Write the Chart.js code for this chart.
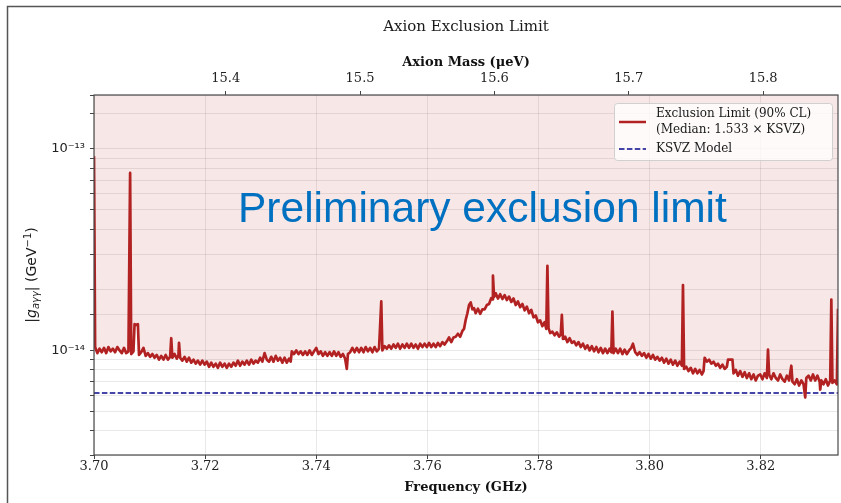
<!DOCTYPE html>
<html>
<head>
<meta charset="utf-8">
<script src="https://cdn.jsdelivr.net/npm/chart.js@4.4.1/dist/chart.umd.min.js"></script>
<style>
  html, body { margin: 0; padding: 0; background: #fff; }
</style>
</head>
<body>
<canvas id="chart" width="841" height="503"></canvas>
<script>
// frequency of each point (GHz)
const freqGHz = [
  3.7000, 3.7002, 3.7006, 3.7010, 3.7014, 3.7018, 3.7022, 3.7026, 3.7030, 3.7034,
  3.7038, 3.7042, 3.7046, 3.7050, 3.7054, 3.7058, 3.7062, 3.7065, 3.7067, 3.7071,
  3.7073, 3.7076, 3.7079, 3.7081, 3.7085, 3.7089, 3.7093, 3.7097, 3.7101, 3.7105,
  3.7109, 3.7113, 3.7117, 3.7121, 3.7125, 3.7129, 3.7133, 3.7137, 3.7139, 3.7141,
  3.7145, 3.7149, 3.7152, 3.7153, 3.7155, 3.7159, 3.7163, 3.7167, 3.7171, 3.7175,
  3.7179, 3.7183, 3.7187, 3.7191, 3.7195, 3.7199, 3.7203, 3.7207, 3.7211, 3.7215,
  3.7219, 3.7223, 3.7227, 3.7231, 3.7235, 3.7239, 3.7243, 3.7247, 3.7251, 3.7255,
  3.7259, 3.7263, 3.7267, 3.7271, 3.7275, 3.7279, 3.7283, 3.7287, 3.7291, 3.7295,
  3.7299, 3.7303, 3.7307, 3.7311, 3.7315, 3.7319, 3.7323, 3.7327, 3.7331, 3.7335,
  3.7339, 3.7343, 3.7347, 3.7351, 3.7354, 3.7356, 3.7360, 3.7364, 3.7368, 3.7372,
  3.7376, 3.7380, 3.7384, 3.7388, 3.7392, 3.7396, 3.7400, 3.7404, 3.7408, 3.7412,
  3.7416, 3.7420, 3.7424, 3.7428, 3.7432, 3.7436, 3.7440, 3.7444, 3.7448, 3.7452,
  3.7455, 3.7457, 3.7461, 3.7465, 3.7469, 3.7473, 3.7477, 3.7481, 3.7485, 3.7489,
  3.7493, 3.7497, 3.7501, 3.7505, 3.7509, 3.7513, 3.7517, 3.7519, 3.7523, 3.7527,
  3.7531, 3.7535, 3.7539, 3.7543, 3.7547, 3.7551, 3.7555, 3.7559, 3.7563, 3.7567,
  3.7571, 3.7575, 3.7579, 3.7583, 3.7587, 3.7591, 3.7595, 3.7599, 3.7603, 3.7607,
  3.7611, 3.7615, 3.7619, 3.7623, 3.7627, 3.7631, 3.7635, 3.7639, 3.7643, 3.7647,
  3.7651, 3.7655, 3.7659, 3.7663, 3.7666, 3.7669, 3.7672, 3.7675, 3.7678, 3.7681,
  3.7684, 3.7687, 3.7691, 3.7695, 3.7699, 3.7703, 3.7707, 3.7711, 3.7715, 3.7717,
  3.7718, 3.7720, 3.7723, 3.7727, 3.7731, 3.7735, 3.7739, 3.7743, 3.7747, 3.7751,
  3.7755, 3.7759, 3.7763, 3.7767, 3.7771, 3.7775, 3.7779, 3.7783, 3.7787, 3.7791,
  3.7795, 3.7799, 3.7803, 3.7807, 3.7811, 3.7814, 3.7816, 3.7818, 3.7821, 3.7825,
  3.7829, 3.7833, 3.7837, 3.7840, 3.7842, 3.7844, 3.7848, 3.7852, 3.7856, 3.7860,
  3.7864, 3.7868, 3.7872, 3.7876, 3.7880, 3.7884, 3.7888, 3.7892, 3.7896, 3.7900,
  3.7904, 3.7908, 3.7912, 3.7916, 3.7920, 3.7924, 3.7928, 3.7931, 3.7933, 3.7935,
  3.7939, 3.7943, 3.7947, 3.7951, 3.7955, 3.7959, 3.7963, 3.7967, 3.7970, 3.7974,
  3.7978, 3.7982, 3.7986, 3.7990, 3.7994, 3.7998, 3.8002, 3.8006, 3.8010, 3.8014,
  3.8018, 3.8022, 3.8026, 3.8030, 3.8034, 3.8038, 3.8042, 3.8046, 3.8050, 3.8054,
  3.8058, 3.8060, 3.8062, 3.8066, 3.8070, 3.8074, 3.8078, 3.8082, 3.8086, 3.8090,
  3.8094, 3.8097, 3.8099, 3.8103, 3.8107, 3.8111, 3.8115, 3.8119, 3.8123, 3.8127,
  3.8131, 3.8135, 3.8139, 3.8141, 3.8145, 3.8149, 3.8151, 3.8155, 3.8159, 3.8163,
  3.8167, 3.8171, 3.8175, 3.8179, 3.8183, 3.8187, 3.8191, 3.8195, 3.8199, 3.8203,
  3.8207, 3.8211, 3.8213, 3.8215, 3.8219, 3.8223, 3.8227, 3.8231, 3.8235, 3.8239,
  3.8243, 3.8247, 3.8251, 3.8255, 3.8257, 3.8261, 3.8265, 3.8269, 3.8273, 3.8277,
  3.8280, 3.8282, 3.8286, 3.8290, 3.8294, 3.8298, 3.8302, 3.8306, 3.8307, 3.8309,
  3.8313, 3.8317, 3.8321, 3.8325, 3.8327, 3.8329, 3.8333, 3.8337, 3.8339
];

// exclusion limit |g_aγγ|, in units of 1e-15 GeV^-1
const limitE15 = [
  92, 10.4, 9.7, 10.2, 9.8, 10.3, 9.7, 10.4, 9.9, 10.2,
  9.8, 10.4, 10.0, 9.7, 10.3, 9.7, 9.9, 76, 9.6, 9.9,
  13.5, 13.4, 13.5, 9.5, 9.8, 10.3, 9.4, 9.7, 9.3, 9.6,
  9.2, 9.5, 9.0, 9.4, 9.0, 9.5, 9.0, 9.3, 11.5, 9.2,
  9.6, 9.1, 9.5, 10.9, 9.2, 8.9, 9.3, 8.8, 9.2, 8.7,
  9.0, 8.6, 8.9, 8.5, 8.9, 8.5, 8.8, 8.3, 8.7, 8.3,
  8.6, 8.2, 8.7, 8.3, 8.6, 8.2, 8.6, 8.3, 8.7, 8.4,
  8.9, 8.4, 8.8, 8.5, 8.9, 8.5, 9.0, 8.6, 8.9, 8.7,
  9.2, 8.8, 9.7, 9.0, 8.8, 9.3, 8.8, 9.4, 8.9, 9.2,
  8.7, 9.2, 8.7, 9.1, 8.8, 9.9, 9.6, 10.0, 9.6, 9.9,
  9.5, 9.9, 9.5, 10.0, 9.5, 9.9, 10.3, 9.6, 9.9, 9.4,
  9.8, 9.4, 9.8, 9.4, 9.9, 9.4, 9.8, 9.3, 9.6, 9.1,
  8.1, 9.6, 9.8, 10.3, 9.8, 10.3, 9.8, 10.3, 9.8, 10.4,
  9.9, 10.3, 9.8, 10.4, 9.9, 10.2, 17.5, 10.0, 10.5, 10.2,
  10.6, 10.2, 10.7, 10.3, 10.8, 10.2, 10.7, 10.3, 10.8, 10.3,
  10.8, 10.3, 10.7, 10.2, 10.8, 10.4, 10.8, 10.4, 10.9, 10.4,
  10.8, 10.4, 10.9, 10.5, 11.0, 10.7, 11.1, 11.6, 11.0, 11.6,
  11.7, 12.1, 11.7, 12.5, 12.8, 14.2, 15.3, 16.8, 17.3, 16.0,
  16.2, 15.3, 16.1, 15.2, 16.0, 16.0, 16.8, 17.0, 18.2, 17.9,
  23.5, 18.4, 19.2, 18.1, 19.0, 18.0, 18.8, 17.8, 18.5, 17.4,
  18.1, 16.8, 17.5, 16.4, 17.0, 15.8, 16.5, 15.3, 15.9, 14.6,
  14.9, 13.8, 14.1, 13.2, 13.8, 12.8, 26.3, 12.9, 12.2, 12.4,
  11.9, 12.3, 11.7, 12.0, 15.0, 11.4, 11.7, 11.0, 11.5, 10.9,
  11.1, 10.6, 11.0, 10.4, 10.8, 10.2, 10.6, 10.0, 10.5, 9.9,
  10.4, 9.8, 10.3, 9.7, 10.2, 9.7, 10.2, 9.8, 15.6, 9.7,
  10.2, 9.7, 10.2, 9.6, 10.1, 9.6, 10.0, 10.3, 10.8, 9.8,
  9.5, 9.8, 9.4, 9.7, 9.2, 9.6, 9.1, 9.5, 9.0, 9.3,
  8.9, 9.2, 8.7, 9.1, 8.6, 9.0, 8.5, 8.9, 8.4, 8.8,
  8.4, 21.1, 8.1, 8.3, 7.9, 8.2, 7.7, 8.1, 7.7, 8.0,
  7.6, 7.9, 9.2, 8.8, 9.0, 8.6, 8.8, 8.4, 8.6, 8.2,
  8.5, 8.1, 8.3, 9.0, 9.0, 9.0, 7.7, 8.0, 7.5, 7.9,
  7.4, 7.8, 7.3, 7.7, 7.2, 7.6, 7.1, 7.5, 7.6, 7.2,
  7.7, 7.3, 10.1, 7.6, 7.2, 7.7, 7.3, 7.1, 7.6, 7.2,
  7.0, 7.5, 7.1, 8.4, 7.0, 6.8, 7.2, 6.7, 7.1, 6.8,
  5.85, 7.3, 7.5, 7.1, 7.6, 7.1, 7.5, 7.0, 6.4, 7.1,
  6.8, 7.2, 6.7, 7.1, 17.9, 6.9, 7.1, 6.8, 16.1
];

// KSVZ reference line (same units)
const ksvzFreq = [3.70, 3.8339];
const ksvzE15 = [6.15, 6.15];

const freqTicks = [3.70, 3.72, 3.74, 3.76, 3.78, 3.80, 3.82];
const massTicks = [15.4, 15.5, 15.6, 15.7, 15.8];
const decadeValues = [10, 100];
const decadeLabels = ['10\u207B\u00B9\u2074', '10\u207B\u00B9\u00B3'];

const X_MIN = 3.70, X_MAX = 3.8339;
const Y_MIN = 3.03, Y_MAX = 185;
const GHZ_TO_UEV = 4.135667;

const RED = '#b22222';
const NAVY = '#0a0a8c';

const limitPoints = freqGHz.map((f, i) => ({ x: f, y: limitE15[i] }));
const ksvzPoints = ksvzFreq.map((f, i) => ({ x: f, y: ksvzE15[i] }));

function drawRuns(ctx, runs, x, y) {
  // runs: [text, font, dy]
  let w = 0;
  runs.forEach(r => { ctx.font = r[1]; w += ctx.measureText(r[0]).width; });
  let cx = x - w / 2;
  runs.forEach(r => {
    ctx.font = r[1];
    ctx.fillText(r[0], cx, y + r[2]);
    cx += ctx.measureText(r[0]).width;
  });
}

const decor = {
  id: 'decor',
  beforeDraw(chart) {
    const ctx = chart.ctx;
    ctx.save();
    ctx.fillStyle = '#fff';
    ctx.fillRect(0, 0, chart.width, chart.height);
    ctx.restore();
  },
  afterDraw(chart) {
    const { ctx, chartArea: a } = chart;
    ctx.save();

    // plot frame
    ctx.strokeStyle = '#4a4a4a';
    ctx.lineWidth = 1.2;
    ctx.strokeRect(a.left, a.top, a.right - a.left, a.bottom - a.top);

    // outer screenshot frame
    ctx.strokeStyle = '#555';
    ctx.lineWidth = 1.5;
    ctx.beginPath();
    ctx.moveTo(7.5, chart.height);
    ctx.lineTo(7.5, 6.5);
    ctx.lineTo(chart.width, 6.5);
    ctx.stroke();

    // main title
    ctx.fillStyle = '#1a1a1a';
    ctx.font = '15px "DejaVu Serif"';
    ctx.textAlign = 'center';
    ctx.textBaseline = 'middle';
    ctx.fillText('Axion Exclusion Limit', (a.left + a.right) / 2, 27);

    // y axis title
    ctx.save();
    ctx.translate(31, (a.top + a.bottom) / 2);
    ctx.rotate(-Math.PI / 2);
    ctx.textAlign = 'left';
    ctx.textBaseline = 'alphabetic';
    ctx.fillStyle = '#1a1a1a';
    const sans = '"DejaVu Sans"';
    drawRuns(ctx, [
      ['|', '14px ' + sans, 5],
      ['g', 'italic 14px ' + sans, 5],
      ['a\u03B3\u03B3', 'italic 10px ' + sans, 8],
      ['|', '14px ' + sans, 5],
      [' (GeV', '14px ' + sans, 5],
      ['\u22121', '10px ' + sans, 0],
      [')', '14px ' + sans, 5]
    ], 0, 0);
    ctx.restore();

    // watermark
    ctx.fillStyle = '#0070c0';
    ctx.font = '42.5px "Liberation Sans"';
    ctx.textAlign = 'left';
    ctx.textBaseline = 'alphabetic';
    ctx.fillText('Preliminary exclusion limit', 238, 222);

    // legend
    const lx = 614, ly = 103, lw = 218, lh = 57;
    ctx.fillStyle = 'rgba(255,255,255,0.8)';
    ctx.strokeStyle = '#d0d0d0';
    ctx.lineWidth = 1;
    ctx.beginPath();
    ctx.roundRect(lx + 0.5, ly + 0.5, lw, lh, 3);
    ctx.fill();
    ctx.stroke();

    ctx.strokeStyle = RED;
    ctx.lineWidth = 2.5;
    ctx.beginPath();
    ctx.moveTo(619, 122);
    ctx.lineTo(646, 122);
    ctx.stroke();

    ctx.strokeStyle = NAVY;
    ctx.lineWidth = 1.5;
    ctx.setLineDash([5.5, 2.4]);
    ctx.beginPath();
    ctx.moveTo(619, 149);
    ctx.lineTo(646, 149);
    ctx.stroke();
    ctx.setLineDash([]);

    ctx.fillStyle = '#1a1a1a';
    ctx.font = '12px "DejaVu Serif"';
    ctx.textAlign = 'left';
    ctx.textBaseline = 'middle';
    ctx.fillText('Exclusion Limit (90% CL)', 656, 114);
    ctx.fillText('(Median: 1.533 \u00D7 KSVZ)', 656, 130);
    ctx.fillText('KSVZ Model', 656, 149);

    ctx.restore();
  }
};

const serif = { family: 'DejaVu Serif', size: 13 };
const gridColor = 'rgba(0,0,0,0.085)';

new Chart(document.getElementById('chart'), {
  type: 'line',
  data: {
    datasets: [
      {
        label: 'Exclusion Limit (90% CL)',
        data: limitPoints,
        borderColor: RED,
        borderWidth: 2.7,
        borderJoinStyle: 'round',
        backgroundColor: 'rgba(178,34,34,0.11)',
        fill: 'end',
        pointRadius: 0,
        tension: 0
      },
      {
        label: 'KSVZ Model',
        data: ksvzPoints,
        borderColor: NAVY,
        borderWidth: 1.5,
        borderDash: [5.5, 2.4],
        fill: false,
        pointRadius: 0
      }
    ]
  },
  options: {
    responsive: false,
    animation: false,
    layout: { padding: { left: 0, right: 3, top: 0, bottom: 0 } },
    plugins: {
      legend: { display: false },
      title: { display: false },
      tooltip: { enabled: false }
    },
    scales: {
      x: {
        type: 'linear',
        position: 'bottom',
        min: X_MIN,
        max: X_MAX,
        afterBuildTicks: s => { s.ticks = freqTicks.map(v => ({ value: v })); },
        ticks: {
          callback: v => v.toFixed(2),
          font: serif,
          color: '#222',
          padding: 0,
          maxRotation: 0,
          autoSkip: false
        },
        grid: { color: gridColor, tickLength: 4, tickColor: '#444' },
        border: { display: false },
        title: {
          display: true,
          text: 'Frequency (GHz)',
          font: { family: 'DejaVu Serif', size: 13, weight: 'bold' },
          color: '#111',
          padding: { top: 0, bottom: 8 }
        },
        afterFit: s => { s.height = 48; }
      },
      x2: {
        type: 'linear',
        position: 'top',
        min: X_MIN * GHZ_TO_UEV,
        max: X_MAX * GHZ_TO_UEV,
        afterBuildTicks: s => { s.ticks = massTicks.map(v => ({ value: v })); },
        ticks: {
          callback: v => v.toFixed(1),
          font: serif,
          color: '#222',
          padding: 5,
          maxRotation: 0,
          autoSkip: false
        },
        grid: { drawOnChartArea: false, tickLength: 4, tickColor: '#444' },
        border: { display: false },
        title: {
          display: true,
          text: 'Axion Mass (\u03BCeV)',
          font: { family: 'DejaVu Serif', size: 13, weight: 'bold' },
          color: '#111',
          padding: { top: 55, bottom: 0 }
        },
        afterFit: s => { s.height = 95; }
      },
      y: {
        type: 'logarithmic',
        min: Y_MIN,
        max: Y_MAX,
        ticks: {
          callback: v => {
            const i = decadeValues.findIndex(d => Math.abs(d - v) < 1e-6);
            return i >= 0 ? decadeLabels[i] : '';
          },
          font: { family: 'DejaVu Sans', size: 13 },
          color: '#222',
          padding: 5,
          autoSkip: false
        },
        grid: {
          color: gridColor,
          tickLength: 4,
          tickColor: '#444'
        },
        border: { display: false },
        afterFit: s => { s.width = 94; }
      }
    }
  },
  plugins: [decor]
});
</script>
</body>
</html>
